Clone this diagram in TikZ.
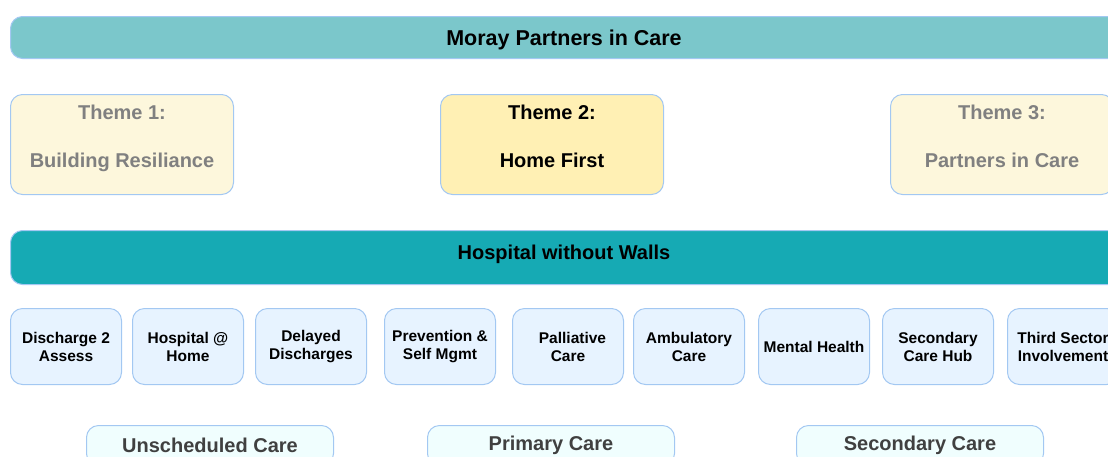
\documentclass[tikz,border=0pt]{standalone}
\usepackage{fontspec}
\setmainfont{Liberation Sans}
\definecolor{edgeblue}{HTML}{A3C8F2}
\definecolor{topbar}{HTML}{7BC7CB}
\definecolor{hwwbar}{HTML}{16AAB4}
\definecolor{themepale}{HTML}{FDF7DC}
\definecolor{themegold}{HTML}{FFF0B4}
\definecolor{themegrey}{HTML}{808080}
\definecolor{itemfill}{HTML}{E7F3FF}
\definecolor{carefill}{HTML}{F0FEFE}
\definecolor{caretext}{HTML}{404040}
\begin{document}
\begin{tikzpicture}[x=1pt,y=-1pt,
  box/.style={draw=edgeblue,line width=1pt,rounded corners=12pt,anchor=north west,
    inner sep=0pt,align=center,font=\bfseries},
  bar/.style={box},
  theme/.style={box,fill=themepale,text=themegrey,minimum width=223pt,minimum height=100pt,
    text depth=17pt,font=\fontsize{20}{24}\selectfont\bfseries},
  item/.style={box,fill=itemfill,minimum width=111pt,minimum height=76pt,
    font=\fontsize{15.5}{18}\selectfont\bfseries},
  care/.style={box,fill=carefill,text=caretext,minimum width=247pt,minimum height=40pt,
    font=\fontsize{20}{24}\selectfont\bfseries}]
\useasboundingbox (0,0) rectangle (1108,456);
\clip (0,0) rectangle (1108,456);

% headline bar
\node[bar,fill=topbar,minimum width=1130pt,minimum height=42pt] (mpic) at (10,16) {};
\node (mpict) at (564,40) {\fontsize{21.5}{24}\selectfont\bfseries Moray Partners in Care};

% three themes
\node[theme] (th1) at (10,94) {Theme 1:\\[24pt]Building Resiliance};
\node[theme,fill=themegold,text=black] (th2) at (440,94) {Theme 2:\\[24pt]Home First};
\node[theme] (th3) at (890,94) {Theme 3:\\[24pt]Partners in Care};

% hospital without walls bar
\node[bar,fill=hwwbar,minimum width=1130pt,minimum height=54pt] (hww) at (10,230) {};
\node (hwwt) at (564,254) {\fontsize{20}{24}\selectfont\bfseries Hospital without Walls};

% workstreams
\node[item] (w1) at (10,308) {Discharge 2\\Assess};
\node[item] (w2) at (132,308) {Hospital @\\Home};
\node[item] (w3) at (255,308) {Delayed\\Discharges};
\node[item] (w4) at (384,308) {Prevention \&\\Self Mgmt};
\node[item] (w5) at (512,308) {\hspace*{9pt}Palliative\\Care};
\node[item] (w6) at (633,308) {Ambulatory\\Care};
\node[item] (w7) at (758,308) {Mental Health};
\node[item] (w8) at (882,308) {Secondary\\Care Hub};
\node[item] (w9) at (1007,308) {Third Sector\\Involvement};

% care settings
\node[care] (c1) at (86,425) {Unscheduled Care};
\node[care] (c2) at (427,425) {Primary Care};
\node[care] (c3) at (796,425) {Secondary Care};
\end{tikzpicture}
\end{document}
